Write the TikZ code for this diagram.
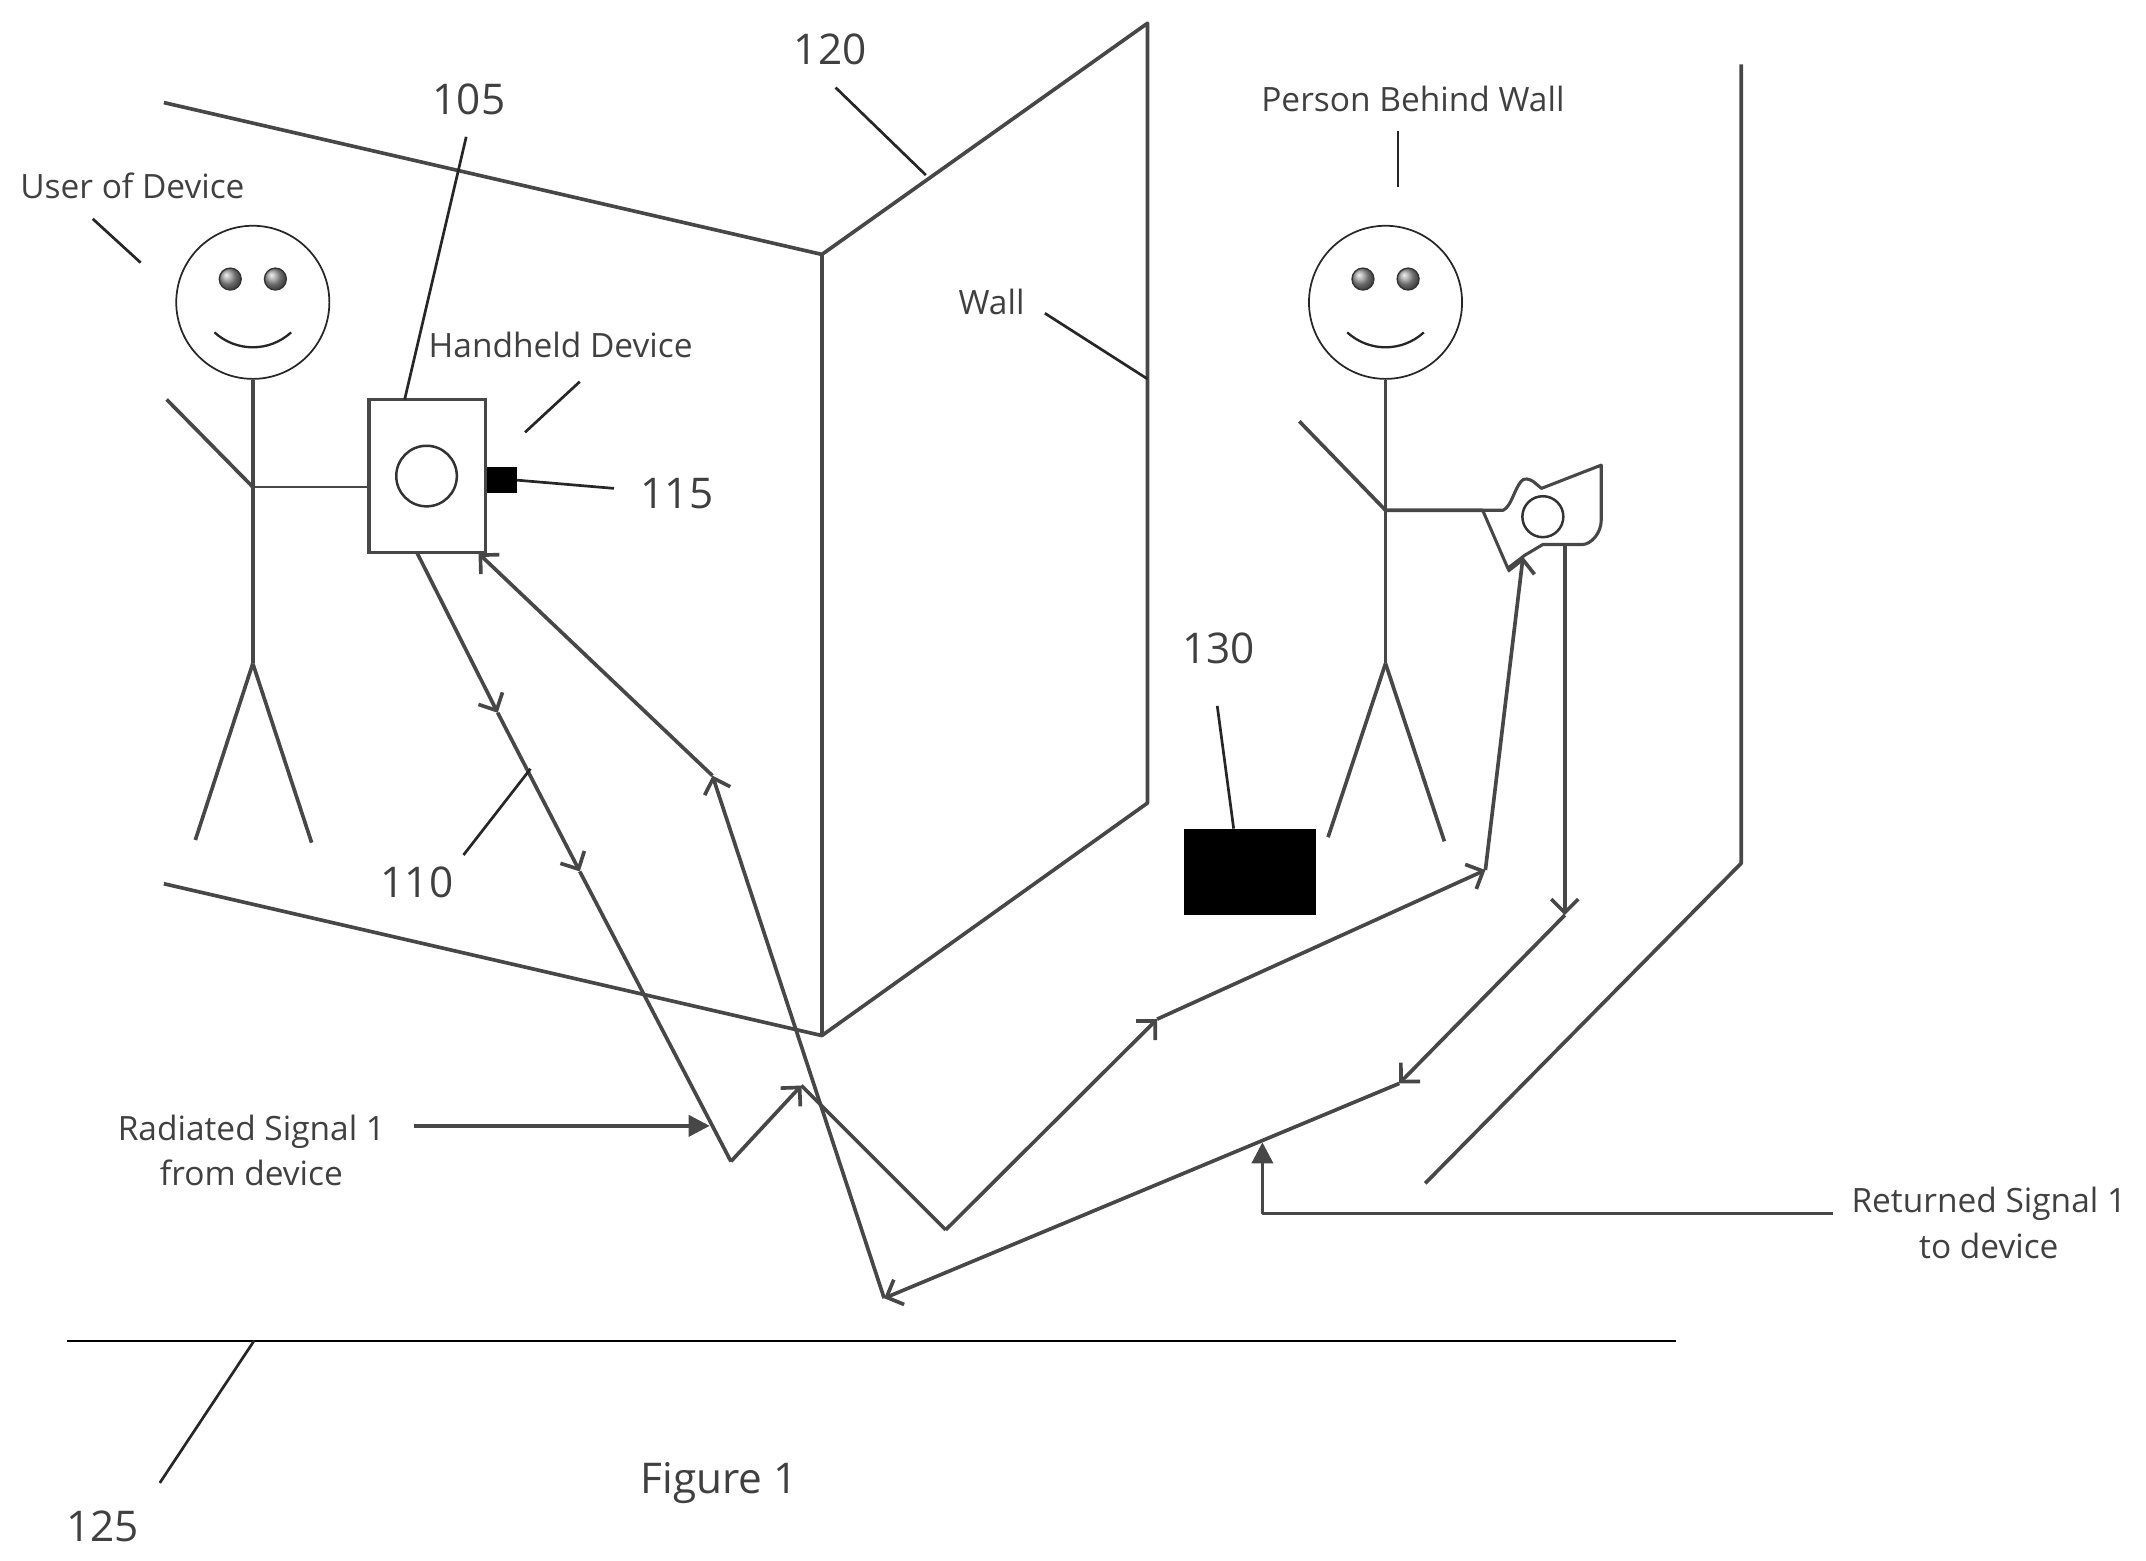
\documentclass[tikz,border=0pt]{standalone}
\usepackage{fontspec}
\setmainfont{Open Sans}
\usetikzlibrary{arrows.meta}

\tikzset{
  line/.style={draw=black!72,line width=1.9pt,line join=round},
  thinline/.style={draw=black!85,line width=1.2pt},
  leader/.style={draw=black!85,line width=1.4pt},
  signal/.style={line,-{Straight Barb[length=7pt,width=14pt]}},
  pointer/.style={line,-{Triangle[length=11pt,width=11pt]}},
  small/.style={font=\fontsize{17.4}{21}\selectfont,text=black!75,align=center},
  big/.style={font=\fontsize{22}{26}\selectfont,text=black!75},
  eye/.style={circle,draw=black!80,line width=0.7pt,inner sep=0pt,minimum size=11.4pt,ball color=black!40,shading=ball},
  head/.style={circle,draw=black!85,line width=0.9pt,inner sep=0pt,minimum size=79.6pt}
}

\newcommand{\stickman}[3]{%
    % head, eyes and smile
    \node[head] (#3head) at (#1,221) {};
    \node[eye] (#3eyeL) at (#1-16.5,204) {};
    \node[eye] (#3eyeR) at (#1+16.5,204) {};
    \draw[thinline] (#1-28,243) .. controls (#1-12,257.5) and (#1+12,257.5) .. (#1+28,243);
    % body
    \coordinate (#3hip) at (#1,485);
    \coordinate (#3arm) at (#1,#2);
    \draw[line] (#3head.south) -- (#3hip);
}

\begin{document}
\begin{tikzpicture}[x=0.025cm,y=-0.025cm]
    \useasboundingbox (-0.8,0) rectangle (1567.9,1141);

    % Wall
    \coordinate (wallTop) at (600,186);
    \coordinate (wallBot) at (600,757);
    \coordinate (wallFarTop) at (838,17);
    \coordinate (wallFarBot) at (838,587);
    \coordinate (wallTick) at (838,277);
    \coordinate (wallCorner) at (676,128);
    \draw[line] (119,75) coordinate (wallLeftTop) -- (wallTop) -- (wallFarTop) -- (wallFarBot) -- (wallBot) -- (119,646) coordinate (wallLeftBot);
    \draw[line] (wallTop) -- (wallBot);

    % Second wall and floor
    \draw[line] (1272,47) coordinate (farTop) -- (1272,631) coordinate (farBend) -- (1041,865) coordinate (farEnd);
    \draw[draw=black,line width=1.1pt] (48,980) coordinate (floorL) -- (1224,980) coordinate (floorR);
    \coordinate (floorTick) at (185,980);

    % User of device
    \stickman{184}{356}{user}
    \draw[line] (userhip) -- (142,614) coordinate (userFootL);
    \draw[line] (userhip) -- (227,616) coordinate (userFootR);
    \draw[line] (121,292) coordinate (userHand) -- (userarm);

    % Handheld device
    \node[draw=black!72,line width=1.9pt,minimum width=60.5pt,minimum height=79.6pt,inner sep=0pt] (device) at (311.5,348) {};
    \node[draw=black!80,line width=1.3pt,circle,minimum size=31.5pt,inner sep=0pt] (lens) at (311,348) {};
    \node[fill=black,minimum width=15.6pt,minimum height=13.5pt,inner sep=0pt] (antenna) at (366,351) {};
    \draw[line,line width=1.4pt] (userarm) -- (userarm -| device.west);

    % Person behind wall
    \stickman{1012}{373}{person}
    \draw[line] (personhip) -- (970,612) coordinate (personFootL);
    \draw[line] (personhip) -- (1055,615) coordinate (personFootR);
    \draw[line] (949,308) coordinate (personHand) -- (personarm) -- (1083,373) coordinate (camLeft);

    % Camera held by the person
    \draw[line,line width=1.6pt] (camLeft) -- (1098,373) .. controls (1104,370) and (1106,358) .. (1111,352)
        .. controls (1113,349) and (1117,350) .. (1120,352) -- (1126,357) -- (1169.7,340) -- (1169.7,380)
        .. controls (1169.7,390) and (1162,398) .. (1156,398) -- (1127,398) -- (1113.6,406) -- (1101.4,415.4) -- cycle;
    \node[draw=black!80,line width=1.3pt,circle,minimum size=21.3pt,inner sep=0pt] (camLens) at (1127,377.7) {};

    % Obstacle behind wall
    \node[fill=black,minimum width=68.3pt,minimum height=44.8pt,inner sep=0pt] (object) at (913,637.5) {};

    % Signal path, out
    \coordinate (txStart) at (304,404);
    \coordinate (txMidA) at (363,521);
    \coordinate (txMidB) at (423,637);
    \coordinate (txLow) at (533.5,849);
    \coordinate (txPeak) at (585,793.5);
    \coordinate (txLowB) at (690.5,899);
    \coordinate (txUp) at (845,745);
    \coordinate (txEnd) at (1085,636);
    \coordinate (txCam) at (1112.5,407);
    \draw[signal] (txStart) -- (txMidA);
    \draw[signal] (txMidA) -- (txMidB);
    \draw[line] (txMidB) -- (txLow);
    \draw[signal] (txLow) -- (txPeak);
    \draw[line] (txPeak) -- (txLowB);
    \draw[signal] (txLowB) -- (txUp);
    \draw[signal] (txUp) -- (txEnd);
    \draw[signal] (txEnd) -- (txCam);

    % Signal path, back
    \coordinate (rxStart) at (1143,398);
    \coordinate (rxDown) at (1143,669);
    \coordinate (rxMid) at (1022,792);
    \coordinate (rxLow) at (645.5,949);
    \coordinate (rxUp) at (520,567);
    \coordinate (rxEnd) at (349,404.5);
    \draw[signal] (rxStart) -- (rxDown);
    \draw[signal] (rxDown) -- (rxMid);
    \draw[signal] (rxMid) -- (rxLow);
    \draw[signal] (rxLow) -- (rxUp);
    \draw[signal] (rxUp) -- (rxEnd);

    % Labels
    \node[small] (lblUser) at (96,136) {User of Device};
    \node[small] (lblDevice) at (409,252) {Handheld Device};
    \node[small] (lblPerson) at (1032,72) {Person Behind Wall};
    \node[small] (lblWall) at (724,221) {Wall};
    \node[small] (lblRadiated) at (183,841) {Radiated Signal 1\\[2.5pt]from device};
    \node[small] (lblReturned) at (1453,894) {Returned Signal 1\\[2.5pt]to device};
    \node[big] (lblA) at (342,72.5) {105};
    \node[big] (lblB) at (304,645) {110};
    \node[big] (lblC) at (494,361) {115};
    \node[big] (lblD) at (606,36) {120};
    \node[big] (lblE) at (74,1116) {125};
    \node[big] (lblF) at (890,474) {130};
    \node[big] (lblFig) at (525,1084) {Figure 1};

    % Leaders
    \coordinate (userTick) at (67,160);
    \coordinate (deviceTick) at (423,279);
    \coordinate (personTick) at (1021,96);
    \coordinate (wallLead) at (763,229);
    \coordinate (aLead) at (340,100);
    \coordinate (bLead) at (338,625);
    \coordinate (dLead) at (610,64);
    \coordinate (eLead) at (116,1084);
    \coordinate (fLead) at (889,516);
    \draw[leader] (userTick) -- (102,192) coordinate (userTickEnd);
    \draw[leader] (deviceTick) -- (383,316) coordinate (deviceTickEnd);
    \draw[leader] (personTick) -- (1021,137) coordinate (personTickEnd);
    \draw[leader] (wallLead) -- (wallTick);
    \draw[leader] (aLead) -- (295,292) coordinate (deviceTop);
    \draw[leader] (bLead) -- (387,562) coordinate (pathTick);
    \draw[leader] (antenna.east) -- (448,357) coordinate (cLead);
    \draw[leader] (dLead) -- (wallCorner);
    \draw[leader] (eLead) -- (floorTick);
    \draw[leader] (fLead) -- (object.north -| 901,0);

    % Callouts for the signals
    \draw[pointer] (302,823) coordinate (radStart) -- (518,823) coordinate (radEnd);
    \draw[pointer] (1339,887) coordinate (retStart) -- (922,887) coordinate (retBend) -- (922,835) coordinate (retEnd);
\end{tikzpicture}
\end{document}
